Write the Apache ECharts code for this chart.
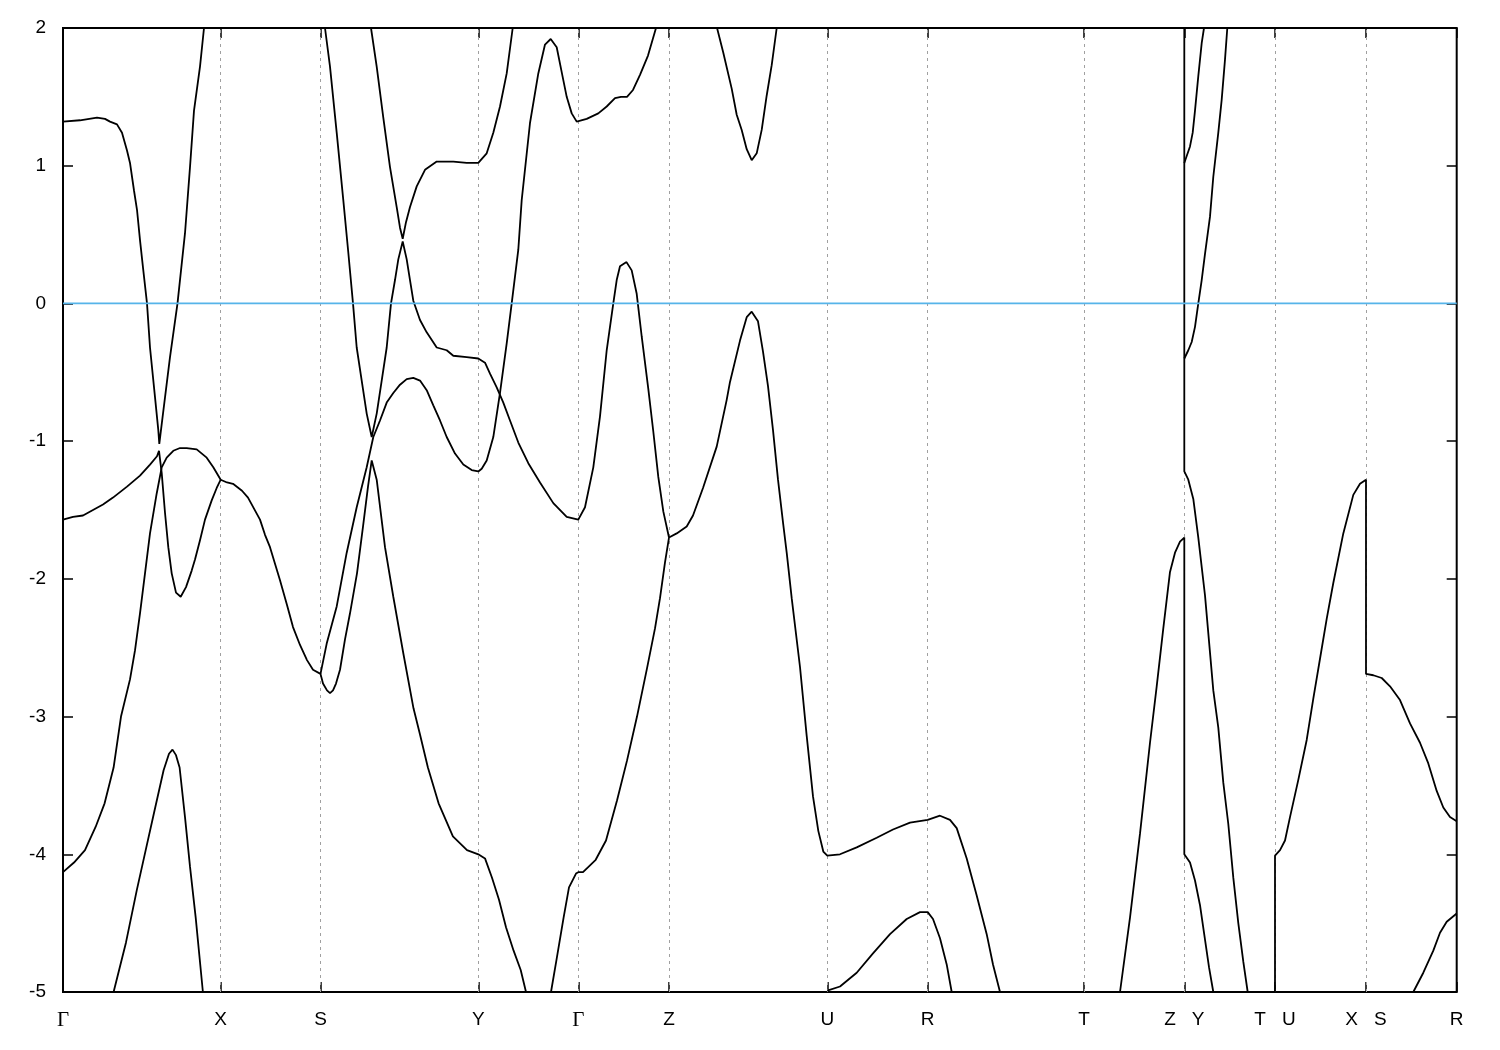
<!DOCTYPE html>
<html>
<head>
<meta charset="utf-8">
<script src="https://cdn.jsdelivr.net/npm/echarts@6/dist/echarts.min.js"></script>
<style>html,body{margin:0;padding:0;background:#fff}#chart{width:1500px;height:1050px}</style>
</head>
<body>
<div id="chart"></div>
<script>
// High-symmetry path
const kLabels = ['Γ','X','S','Y','Γ','Z','U','R','T','Z|Y','T|U','X|S','R'];
const kPositions = [0,157.7,257.5,415.3,515.3,606,764.3,864.7,1021,1121.3,1212,1303,1393.7];
const energyTicks = [-5,-4,-3,-2,-1,0,1,2];
const fermiLevel = 0;

// Band pieces [k, E(eV)]
const band1 = [[0,1.32],[17,1.33],[34,1.35],[42,1.34],[47,1.32],[54,1.30],[59,1.24],[64,1.11],[67,1.02],[71,0.82],[74,0.68],[77,0.46],[80,0.26],[84,0.00],[87,-0.32],[92,-0.68],[95.3,-0.92],[96.3,-1.02],[100,-0.80],[107,-0.39],[114.5,0.00],[122,0.51],[127,0.99],[131,1.40],[137,1.72],[141,2.00],[144,2.20]];
const band2 = [[0,-1.57],[10,-1.55],[20,-1.54],[30,-1.50],[40,-1.46],[50,-1.41],[64,-1.33],[77,-1.25],[87,-1.17],[94,-1.11],[96,-1.07],[98.7,-1.23],[102,-1.52],[105.3,-1.77],[108.7,-1.96],[113,-2.10],[117.7,-2.13],[123,-2.06],[128.7,-1.94],[132,-1.86],[137,-1.72],[142,-1.57],[148.7,-1.43],[153.7,-1.34],[157.7,-1.28],[164,-1.30],[170,-1.31],[179,-1.36],[185,-1.41],[191,-1.49],[197,-1.57],[202,-1.68],[207,-1.77],[212,-1.89],[217,-2.01],[224,-2.19],[230,-2.35],[237,-2.48],[244,-2.59],[250,-2.66],[257.5,-2.69],[260,-2.76],[264,-2.81],[267,-2.83],[270,-2.81],[273,-2.76],[277,-2.66],[282,-2.44],[287,-2.25],[294,-1.96],[300,-1.62],[305,-1.33],[308.7,-1.14],[313.7,-1.28],[322,-1.77],[330.3,-2.13],[340.3,-2.54],[350.5,-2.94],[357,-3.13],[364.9,-3.37],[375.6,-3.63],[389.9,-3.87],[404,-3.97],[415.3,-4.00],[422,-4.03],[429,-4.17],[436,-4.33],[443,-4.53],[450.6,-4.70],[457.7,-4.84],[463,-5.00],[465,-5.06]];
const band3 = [[0,-4.13],[11,-4.06],[22,-3.97],[32.7,-3.80],[41.6,-3.63],[50.6,-3.37],[58,-3.00],[67,-2.73],[72,-2.52],[77,-2.25],[87,-1.67],[93.7,-1.38],[98.7,-1.19],[103.7,-1.12],[110.3,-1.07],[117,-1.05],[123.7,-1.05],[133.7,-1.06],[143.7,-1.12],[150.3,-1.19],[157.7,-1.28]];
const band4 = [[257.5,-2.69],[263.7,-2.47],[273.7,-2.20],[283.7,-1.81],[293.7,-1.48],[303.7,-1.19],[310.3,-0.97],[317,-0.85],[323.7,-0.72],[330.3,-0.65],[337,-0.59],[343.7,-0.55],[350.3,-0.54],[357,-0.56],[363.7,-0.63],[370.3,-0.74],[377,-0.85],[383.7,-0.97],[392,-1.09],[400.3,-1.17],[408.7,-1.21],[415.3,-1.22],[418.7,-1.20],[423.7,-1.14],[430.3,-0.97],[437,-0.65],[443.7,-0.29],[448.7,0.00],[455.3,0.39],[458.7,0.75],[467,1.31],[475.3,1.67],[482,1.88],[487.7,1.92],[493.7,1.86],[498.7,1.68],[503.7,1.50],[508.7,1.38],[513.7,1.32],[515.3,1.32],[523.7,1.34],[535.3,1.38],[543.7,1.43],[552,1.49],[558,1.50],[564,1.50],[570,1.55],[577,1.66],[585,1.80],[593,2.00],[596,2.07]];
const band5 = [[259,2.17],[262,2.00],[267,1.72],[273.7,1.24],[280.3,0.75],[285.3,0.37],[290,0.00],[293.7,-0.32],[298.7,-0.56],[303.7,-0.80],[308.7,-0.97],[313.7,-0.80],[318.7,-0.56],[323.7,-0.32],[328,0.00],[332,0.17],[335.3,0.32],[339.7,0.45],[343.7,0.32],[347,0.17],[350.3,0.02],[357,-0.12],[363.7,-0.21],[373.7,-0.32],[383.7,-0.34],[390.3,-0.38],[403.7,-0.39],[415.3,-0.40],[422,-0.43],[427,-0.51],[433.7,-0.61],[440.3,-0.72],[447,-0.85],[455.3,-1.01],[465.3,-1.16],[477,-1.30],[490.3,-1.45],[503.7,-1.55],[515.3,-1.57],[522,-1.48],[530.3,-1.19],[537,-0.82],[543.7,-0.34],[550.3,0.00],[553.7,0.17],[557,0.27],[563.5,0.30],[568.7,0.24],[573.7,0.07],[578.7,-0.24],[585.3,-0.62],[590.3,-0.93],[595.3,-1.26],[600.3,-1.51],[606,-1.70]];
const band6 = [[305.4,2.13],[308,2.00],[313.7,1.72],[320.3,1.35],[327,0.99],[333.7,0.70],[337,0.55],[339.7,0.47],[343,0.59],[347,0.70],[353.7,0.85],[362,0.97],[373.7,1.03],[390.3,1.03],[403.7,1.02],[415.3,1.02],[423.7,1.09],[430.3,1.24],[437,1.43],[443.7,1.67],[449.7,2.00],[451,2.09]];
const band7 = [[48.6,-5.06],[50.6,-5.00],[63,-4.64],[73.8,-4.26],[82.7,-3.97],[91.6,-3.68],[100.6,-3.39],[106,-3.27],[109.5,-3.24],[113,-3.28],[116.6,-3.37],[122,-3.73],[127,-4.09],[132.7,-4.46],[139.9,-5.00],[140.7,-5.06]];
const band8 = [[486.7,-5.06],[488,-5.00],[493.4,-4.77],[500.6,-4.46],[506,-4.24],[513,-4.14],[515.3,-4.13],[520,-4.13],[532.7,-4.04],[543,-3.90],[554,-3.61],[564,-3.32],[574,-3.00],[584,-2.65],[592,-2.36],[597,-2.14],[602,-1.88],[606,-1.70],[613.7,-1.67],[623.7,-1.62],[630,-1.54],[640,-1.34],[653.7,-1.04],[663.7,-0.70],[667,-0.57],[677,-0.27],[683.7,-0.10],[688.7,-0.06],[695,-0.13],[700,-0.35],[705,-0.60],[710,-0.92],[715,-1.28],[720,-1.59],[723.7,-1.81],[728.7,-2.14],[737,-2.64],[743.7,-3.14],[750,-3.58],[755.3,-3.83],[760.3,-3.98],[764.3,-4.01],[777,-4.00],[793.7,-3.95],[813.7,-3.88],[830,-3.82],[847,-3.77],[864.7,-3.75],[877,-3.72],[887,-3.75],[893.7,-3.81],[903.7,-4.03],[913.7,-4.30],[923.7,-4.58],[930,-4.80],[937,-5.00],[938.5,-5.06]];
const band9 = [[650,2.12],[653.7,2.01],[660.3,1.82],[668.7,1.56],[673.7,1.37],[678.7,1.26],[683.7,1.12],[688.7,1.04],[693.7,1.09],[698.7,1.26],[703.7,1.51],[708.7,1.73],[713.7,2.00],[715,2.09]];
const band10 = [[764.3,-4.99],[777,-4.96],[793.7,-4.86],[810,-4.72],[827,-4.58],[843.7,-4.47],[857,-4.42],[864.7,-4.42],[870,-4.47],[877,-4.61],[883.7,-4.80],[888.7,-5.00],[890,-5.06]];
const band11 = [[1055.7,-5.06],[1057,-5.00],[1067,-4.46],[1077,-3.85],[1087,-3.19],[1093.7,-2.78],[1100.3,-2.36],[1107,-1.95],[1112,-1.81],[1117,-1.73],[1121.3,-1.70],[1121.3,-4.00],[1127,-4.06],[1132,-4.19],[1137,-4.37],[1142,-4.62],[1146,-4.82],[1150.3,-5.00],[1151,-5.06]];
const band12 = [[1121.3,2.3],[1121.3,-1.22],[1125.3,-1.28],[1130.3,-1.42],[1135.3,-1.70],[1142,-2.12],[1150.3,-2.81],[1155.3,-3.08],[1160.3,-3.48],[1165.3,-3.78],[1170.3,-4.17],[1175.3,-4.50],[1180.3,-4.78],[1184.7,-5.00],[1186,-5.06]];
const band13 = [[1121.3,1.02],[1123.7,1.07],[1127,1.14],[1129.7,1.24],[1132,1.40],[1135.3,1.65],[1138.7,1.89],[1141,2.00],[1142.5,2.09]];
const band14 = [[1121.3,-0.40],[1125.3,-0.34],[1128.7,-0.28],[1132,-0.17],[1135.3,0.00],[1138.7,0.17],[1142,0.36],[1147,0.63],[1150.3,0.92],[1155.3,1.24],[1158.7,1.48],[1162,1.77],[1164.3,2.00],[1165.5,2.09]];
const band15 = [[1212,-5.2],[1212,-4.01],[1217,-3.97],[1222,-3.90],[1227,-3.73],[1235.3,-3.46],[1243.7,-3.17],[1250.3,-2.87],[1257,-2.58],[1263.7,-2.29],[1270.3,-2.03],[1280.3,-1.67],[1290.3,-1.39],[1297,-1.31],[1303,-1.28],[1303,-2.69],[1310.3,-2.70],[1318.7,-2.72],[1327,-2.78],[1337,-2.88],[1347,-3.05],[1357,-3.19],[1365.3,-3.34],[1373.7,-3.54],[1380.3,-3.66],[1387,-3.73],[1393.7,-3.76]];
const band16 = [[1348.5,-5.06],[1350.3,-5.00],[1360.3,-4.86],[1370.3,-4.70],[1377,-4.57],[1383.7,-4.49],[1393.7,-4.43]];

const bands = [band1,band2,band3,band4,band5,band6,band7,band8,band9,band10,band11,band12,band13,band14,band15,band16];
const kMax = kPositions[kPositions.length-1];

function fmtLabel(val){
  let i = kPositions.findIndex(p => Math.abs(p - val) < 0.05);
  if (i < 0) return '';
  const parts = kLabels[i].split('|');
  return parts.map(p => p === 'Γ' ? '{g|Γ}' : '{n|' + p + '}').join('{sp| }');
}

const chart = echarts.init(document.getElementById('chart'), null, {renderer:'canvas'});
const tickStyle = {show:true, inside:true, length:10, lineStyle:{color:'#000', width:1.5}};
const series = bands.map(b => ({
  type:'line', data:b, showSymbol:false, symbol:'none', clip:true, z:3,
  lineStyle:{color:'#000', width:1.8}, animation:false, silent:true
}));
series.push({
  type:'line', data:[[0,fermiLevel],[kMax,fermiLevel]], showSymbol:false, symbol:'none', z:5,
  lineStyle:{color:'#56b4e9', width:1.8}, animation:false, silent:true,
  markLine:{
    silent:true, symbol:'none', animation:false, z:1,
    label:{show:false},
    lineStyle:{color:'#a0a0a0', width:1, type:[3,4]},
    data: kPositions.slice(1, -1).map(v => ({xAxis:v}))
  }
});

chart.setOption({
  animation:false,
  backgroundColor:'#fff',
  grid:{left:63, right:43.3, top:28, bottom:58, show:true, borderColor:'#000', borderWidth:2, backgroundColor:'transparent'},
  xAxis:[{
    type:'value', min:0, max:kMax, position:'bottom',
    axisLine:{show:false, onZero:false}, splitLine:{show:false},
    axisTick:Object.assign({customValues:kPositions}, tickStyle),
    axisLabel:{customValues:kPositions, formatter:fmtLabel, margin:18, color:'#000',
      rich:{n:{fontFamily:'Liberation Sans', fontSize:19, color:'#000'},
            g:{fontFamily:'Liberation Serif', fontSize:21, color:'#000'},
            sp:{width:16}}}
  },{
    type:'value', min:0, max:kMax, position:'top',
    axisLine:{show:false, onZero:false}, splitLine:{show:false},
    axisTick:Object.assign({customValues:kPositions}, tickStyle),
    axisLabel:{show:false}
  }],
  yAxis:[{
    type:'value', min:-5, max:2, interval:1, position:'left',
    axisLine:{show:false, onZero:false}, splitLine:{show:false},
    axisTick:tickStyle,
    axisLabel:{color:'#000', fontFamily:'Liberation Sans', fontSize:19, margin:17}
  },{
    type:'value', min:-5, max:2, interval:1, position:'right',
    axisLine:{show:false, onZero:false}, splitLine:{show:false},
    axisTick:tickStyle, axisLabel:{show:false}
  }],
  series: series
});
</script>
</body>
</html>
